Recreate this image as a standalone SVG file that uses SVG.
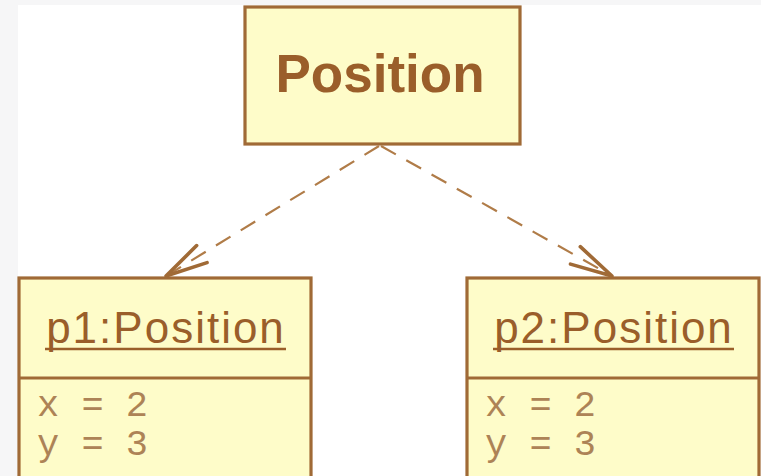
<svg xmlns="http://www.w3.org/2000/svg" width="761" height="476" viewBox="0 0 761 476">
  <style>
    .box { fill: #fefcc9; stroke: #a06a36; stroke-width: 3.2; }
    .div { stroke: #a06a36; stroke-width: 3; }
    .title { font-family: "Liberation Sans", Arial, sans-serif; font-weight: bold; font-size: 53px; fill: #9a5e2a; text-anchor: middle; }
    .inst { font-family: "Liberation Sans", Arial, sans-serif; font-size: 44px; letter-spacing: 2px; fill: #9a5e2a; text-anchor: middle; }
    .uline { stroke: #9a5e2a; stroke-width: 2.5; }
    .attr { font-family: "Liberation Mono", "Courier New", monospace; font-size: 37px; fill: #ad8356; }
    .dep { fill: none; stroke: #b07c48; stroke-width: 2.2; stroke-dasharray: 17 12; }
    .head { fill: none; stroke: #a06a36; stroke-width: 3.6; stroke-linecap: round; stroke-linejoin: round; }
  </style>
  <defs>
    <marker id="open" markerUnits="userSpaceOnUse" markerWidth="60" markerHeight="40" refX="0" refY="0" viewBox="-50 -20 60 40" orient="auto" overflow="visible">
      <path class="head" d="M -42 -10 L 0 0 L -42 10"/>
    </marker>
  </defs>

  <!-- canvas -->
  <rect x="0" y="0" width="761" height="476" fill="#f6f6f7"/>
  <rect x="18" y="5" width="743" height="471" fill="#ffffff"/>

  <!-- class -->
  <g id="position-class">
    <rect class="box" x="245" y="7" width="275" height="137"/>
    <text class="title" x="380" y="92">Position</text>
  </g>

  <!-- instances -->
  <g id="p1">
    <rect class="box" x="19" y="278" width="292" height="210"/>
    <line class="div" x1="19" y1="378" x2="311" y2="378"/>
    <text class="inst" x="166" y="343">p1:Position</text>
    <line class="uline" x1="45" y1="349" x2="286" y2="349"/>
    <text class="attr" x="37" y="416">x = 2</text>
    <text class="attr" x="37" y="455">y = 3</text>
  </g>

  <g id="p2">
    <rect class="box" x="467" y="278" width="292" height="210"/>
    <line class="div" x1="467" y1="378" x2="759" y2="378"/>
    <text class="inst" x="614" y="343">p2:Position</text>
    <line class="uline" x1="493" y1="349" x2="734" y2="349"/>
    <text class="attr" x="485" y="416">x = 2</text>
    <text class="attr" x="485" y="455">y = 3</text>
  </g>

  <!-- instance-of dependencies -->
  <g id="connectors">
    <line class="dep" x1="379" y1="146" x2="166" y2="276" marker-end="url(#open)"/>
    <line class="dep" x1="381" y1="146" x2="612" y2="276" marker-end="url(#open)"/>
  </g>
</svg>
